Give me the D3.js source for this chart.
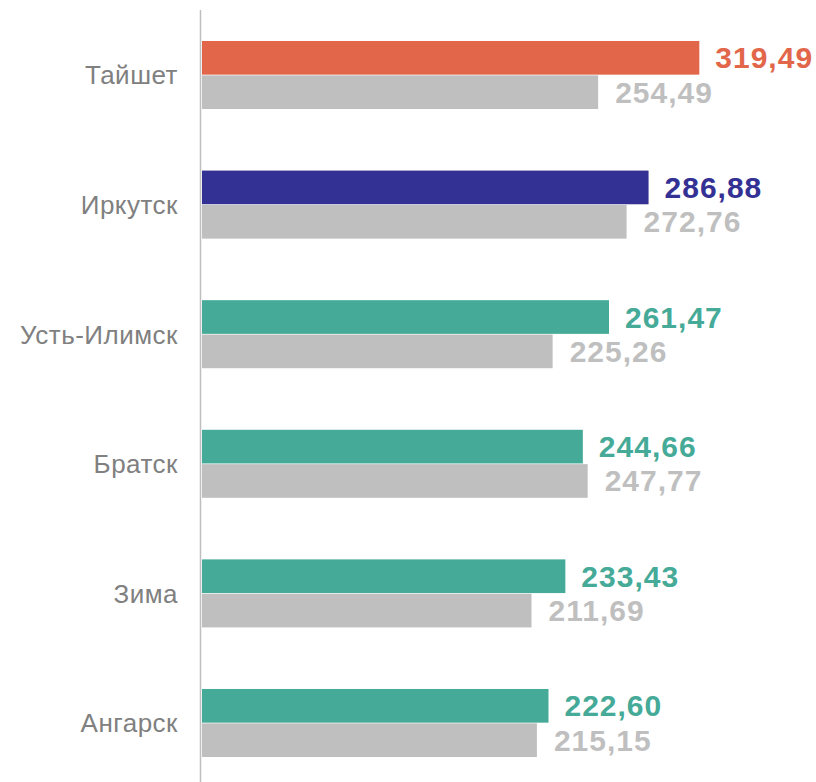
<!DOCTYPE html>
<html><head><meta charset="utf-8">
<script src="https://cdn.jsdelivr.net/npm/d3@7"></script>
<style>body{margin:0;background:#fff}svg{display:block}</style>
</head><body>
<script>
const categories = ["Тайшет","Иркутск","Усть-Илимск","Братск","Зима","Ангарск"];
const currentValues = [319.49, 286.88, 261.47, 244.66, 233.43, 222.60];
const previousValues = [254.49, 272.76, 225.26, 247.77, 211.69, 215.15];
const currentColors = ["#E2674A","#343195","#45AA97","#45AA97","#45AA97","#45AA97"];
const previousColor = "#BFBFBF";
const fmt = v => v.toFixed(2).replace(".", ",");

const W = 816, H = 782;
const svg = d3.select("body").append("svg").attr("width", W).attr("height", H);

const x = d3.scaleLinear().domain([0, 350]).range([202, 202 + 350 * 1.5566]);
const y = d3.scaleBand().domain(categories).range([10.2, 787.8]).paddingInner(0.475).paddingOuter(0.2375);
const sub = d3.scaleBand().domain(["cur","prev"]).range([0, y.bandwidth()]).paddingInner(0.02);

const rows = categories.map((c, i) => ({c, cur: currentValues[i], prev: previousValues[i], col: currentColors[i]}));

const g = svg.selectAll("g.row").data(rows).join("g").attr("class","row")
  .attr("transform", d => `translate(0,${y(d.c)})`);

g.append("rect").attr("x", x(0)).attr("y", sub("cur"))
  .attr("width", d => x(d.cur) - x(0)).attr("height", sub.bandwidth()).attr("fill", d => d.col);
g.append("rect").attr("x", x(0)).attr("y", sub("prev"))
  .attr("width", d => x(d.prev) - x(0)).attr("height", sub.bandwidth()).attr("fill", previousColor);

const font = "Liberation Sans, Arial, sans-serif";
g.append("text").attr("x", d => x(d.cur) + 16).attr("y", sub("cur") + sub.bandwidth()/2)
  .attr("dy", "0.35em").attr("font-family", font).attr("letter-spacing", 1)
  .attr("font-weight", "bold").attr("font-size", 30).attr("fill", d => d.col).text(d => fmt(d.cur));
g.append("text").attr("x", d => x(d.prev) + 17).attr("y", sub("prev") + sub.bandwidth()/2)
  .attr("dy", "0.35em").attr("font-family", font).attr("letter-spacing", 1)
  .attr("font-weight", "bold").attr("font-size", 30).attr("fill", previousColor).text(d => fmt(d.prev));

g.append("text").attr("x", 178).attr("y", y.bandwidth()/2)
  .attr("dy", "0.36em").attr("text-anchor", "end").attr("font-family", font).attr("letter-spacing", 0.5)
  .attr("font-size", 26).attr("fill", "#808080").text(d => d.c);

svg.append("line").attr("x1", 200.5).attr("x2", 200.5).attr("y1", 10).attr("y2", H)
  .attr("stroke", "#BFBFBF").attr("stroke-width", 1.5);
</script>
</body></html>
